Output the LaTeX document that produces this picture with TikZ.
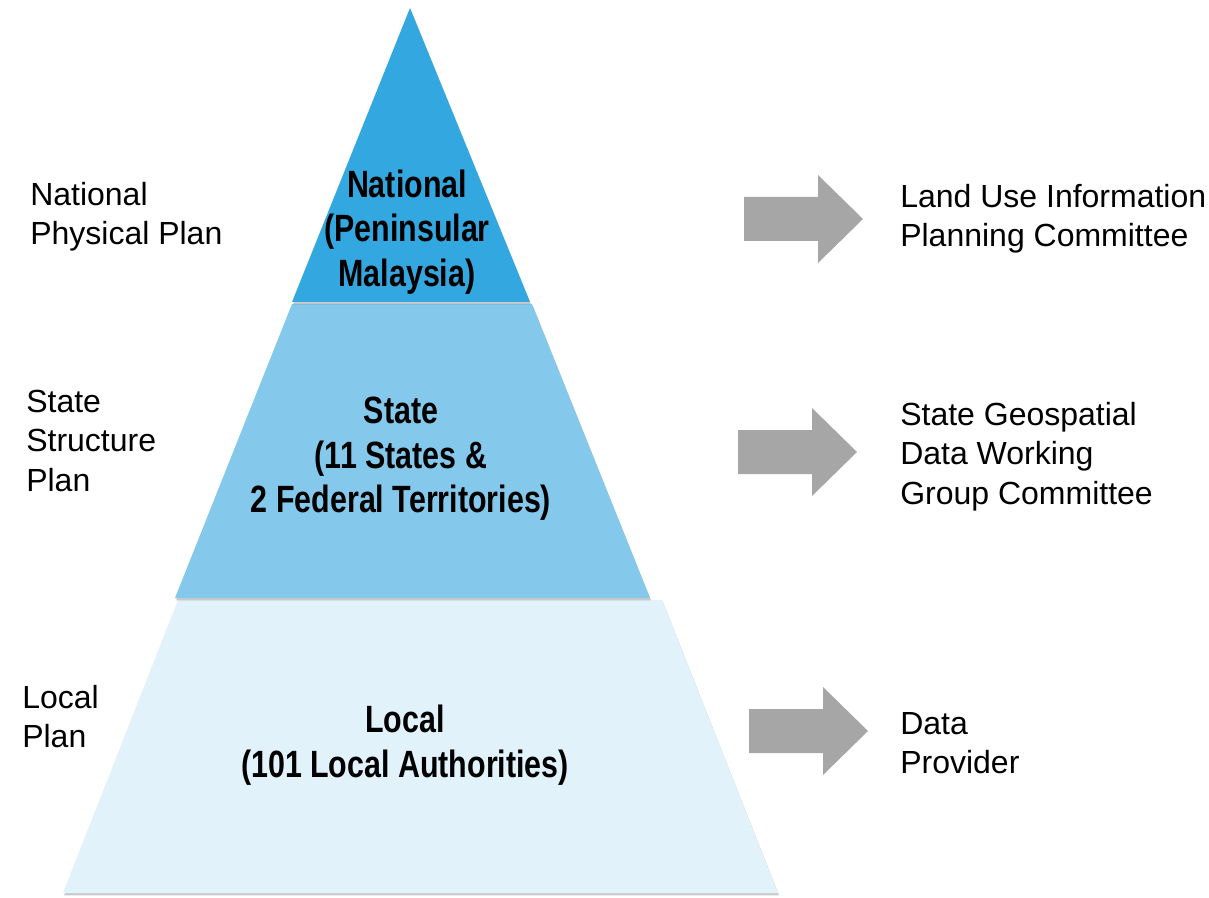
\documentclass[tikz,border=0pt]{standalone}
\usepackage{fontspec}
\setmainfont{Liberation Sans}
\newfontfamily\condfont[FakeStretch=0.80]{Liberation Sans}
\usetikzlibrary{shadows}
\definecolor{tierA}{RGB}{51,168,224}
\definecolor{tierB}{RGB}{132,200,235}
\definecolor{tierC}{RGB}{226,242,250}
\definecolor{arrowgray}{RGB}{166,166,166}
\tikzset{
  tier/.style={drop shadow={shadow xshift=0.8pt,shadow yshift=-1.8pt,opacity=0.35,fill=black!60}},
  tiertext/.style={align=center,inner sep=0pt,font=\condfont\bfseries\fontsize{28.5}{33.5}\selectfont},
  sidelabel/.style={align=left,anchor=north west,inner sep=0pt,font=\fontsize{24}{29.5}\selectfont},
  blockarrow/.pic={\fill[arrowgray] (0,-22) -- (74,-22) -- (74,-44) -- (119,0) -- (74,44) -- (74,22) -- (0,22) -- cycle;}
}
\begin{document}
\begin{tikzpicture}[x=0.75pt,y=-0.75pt]
\useasboundingbox (0,0) rectangle (1209,898);
% pyramid tiers
\fill[tierC,tier] (178,600) -- (662,600) -- (778,893) -- (63,893) -- cycle;
\fill[tierB,tier] (292,304) -- (532,304) -- (650,598) -- (175,598) -- cycle;
\fill[tierA,tier] (410,8) -- (530,302) -- (292,302) -- cycle;
% tier texts
\node[tiertext] (national) at (407,232) {National\\(Peninsular\\Malaysia)};
\node[tiertext] (state) at (401,459) {State\\(11 States \&\\2 Federal Territories)};
\node[tiertext] (local) at (405,745) {Local\\(101 Local Authorities)};
% left labels
\node[sidelabel] (npp) at (30,182) {National\\Physical Plan};
\node[sidelabel] (ssp) at (26,390) {State\\Structure\\Plan};
\node[sidelabel] (lp) at (22,685) {Local\\Plan};
% right labels
\node[sidelabel] (luipc) at (900,184) {Land Use Information\\Planning Committee};
\node[sidelabel] (sgdwg) at (900,402) {State Geospatial\\Data Working\\Group Committee};
\node[sidelabel] (dp) at (900,712) {Data\\Provider};
% block arrows
\pic at (744,219) {blockarrow};
\pic at (738,452) {blockarrow};
\pic at (749,731) {blockarrow};
\end{tikzpicture}
\end{document}
